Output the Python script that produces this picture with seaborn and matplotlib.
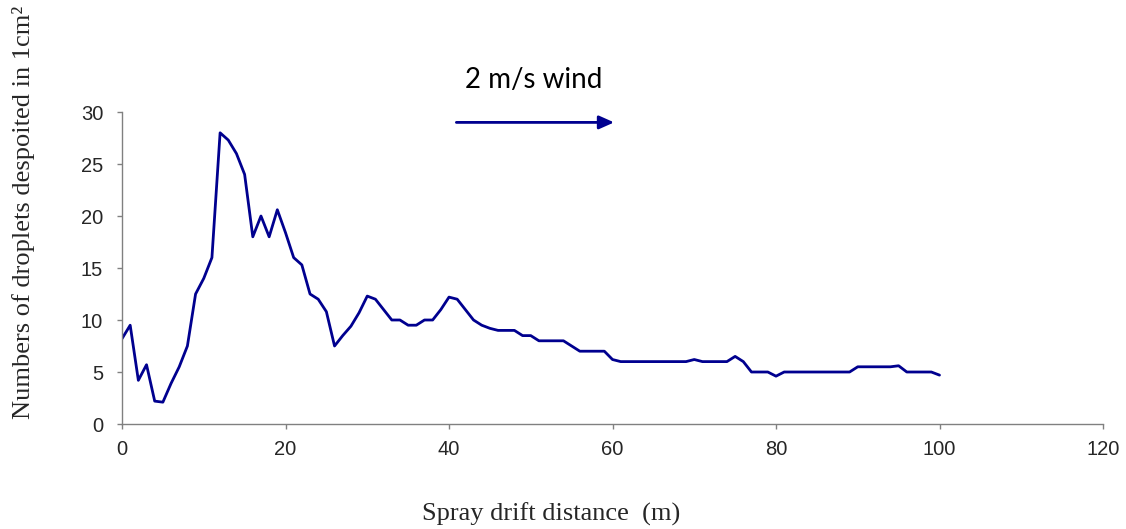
import matplotlib
matplotlib.use("Agg")
import matplotlib.pyplot as plt
import seaborn as sns
import pandas as pd

distance = list(range(0, 101))
droplets = [
    8.2, 9.5, 4.2, 5.7, 2.2, 2.1, 3.9, 5.5, 7.5, 12.5,
    14.0, 16.0, 28.0, 27.3, 26.0, 24.0, 18.0, 20.0, 18.0, 20.6,
    18.4, 16.0, 15.3, 12.5, 12.0, 10.8, 7.5, 8.5, 9.4, 10.7,
    12.3, 12.0, 11.0, 10.0, 10.0, 9.5, 9.5, 10.0, 10.0, 11.0,
    12.2, 12.0, 11.0, 10.0, 9.5, 9.2, 9.0, 9.0, 9.0, 8.5,
    8.5, 8.0, 8.0, 8.0, 8.0, 7.5, 7.0, 7.0, 7.0, 7.0,
    6.2, 6.0, 6.0, 6.0, 6.0, 6.0, 6.0, 6.0, 6.0, 6.0,
    6.2, 6.0, 6.0, 6.0, 6.0, 6.5, 6.0, 5.0, 5.0, 5.0,
    4.6, 5.0, 5.0, 5.0, 5.0, 5.0, 5.0, 5.0, 5.0, 5.0,
    5.5, 5.5, 5.5, 5.5, 5.5, 5.6, 5.0, 5.0, 5.0, 5.0,
    4.7,
]
x_ticks = [0, 20, 40, 60, 80, 100, 120]
y_ticks = [0, 5, 10, 15, 20, 25, 30]
x_label = "Spray drift distance  (m)"
y_label = "Numbers of droplets despoited in 1cm\u00b2"
wind_label = "2 m/s wind"

sns.set_style("white")
plt.rcParams["font.family"] = ["Liberation Sans", "DejaVu Sans"]

df = pd.DataFrame({"distance": distance, "droplets": droplets})

fig = plt.figure(figsize=(11.26, 5.29), dpi=100)
ax = fig.add_axes([122 / 1126, 1 - 424 / 529, (1103 - 122) / 1126, (424 - 112) / 529])

line_color = "#00008F"
sns.lineplot(data=df, x="distance", y="droplets", ax=ax, color=line_color, linewidth=2.0)

ax.set_xlim(0, 120)
ax.set_ylim(0, 30)
ax.set_xticks(x_ticks)
ax.set_yticks(y_ticks)
ax.tick_params(axis="both", labelsize=14.5, length=3.6, width=1, color="#808080",
               direction="out", bottom=True, left=True)
ax.tick_params(axis="y", pad=10)
ax.tick_params(axis="x", pad=8)
for s in ["top", "right"]:
    ax.spines[s].set_visible(False)
for s in ["left", "bottom"]:
    ax.spines[s].set_color("#808080")
    ax.spines[s].set_linewidth(1)

ax.set_xlabel(x_label, family="Liberation Serif", fontsize=19, va="top")
ax.xaxis.set_label_coords((551 - 122) / 981, (424 - 503) / 312)
ax.set_ylabel(y_label, family="Liberation Serif", fontsize=19)
ax.yaxis.set_label_coords((35 - 122) / 981, (424 - 212) / 312)

ax.annotate("", xy=(60.2, 29.0), xytext=(40.9, 29.0), xycoords="data",
            annotation_clip=False,
            arrowprops=dict(arrowstyle="-|>,head_length=0.9,head_width=0.4",
                            color=line_color, lw=2.0, shrinkA=0, shrinkB=0))
ax.text(50.4, 33.1, wind_label, ha="center", va="center", fontsize=20,
        family="Lato", color="black", clip_on=False)

fig.savefig("out.png", dpi=100)
